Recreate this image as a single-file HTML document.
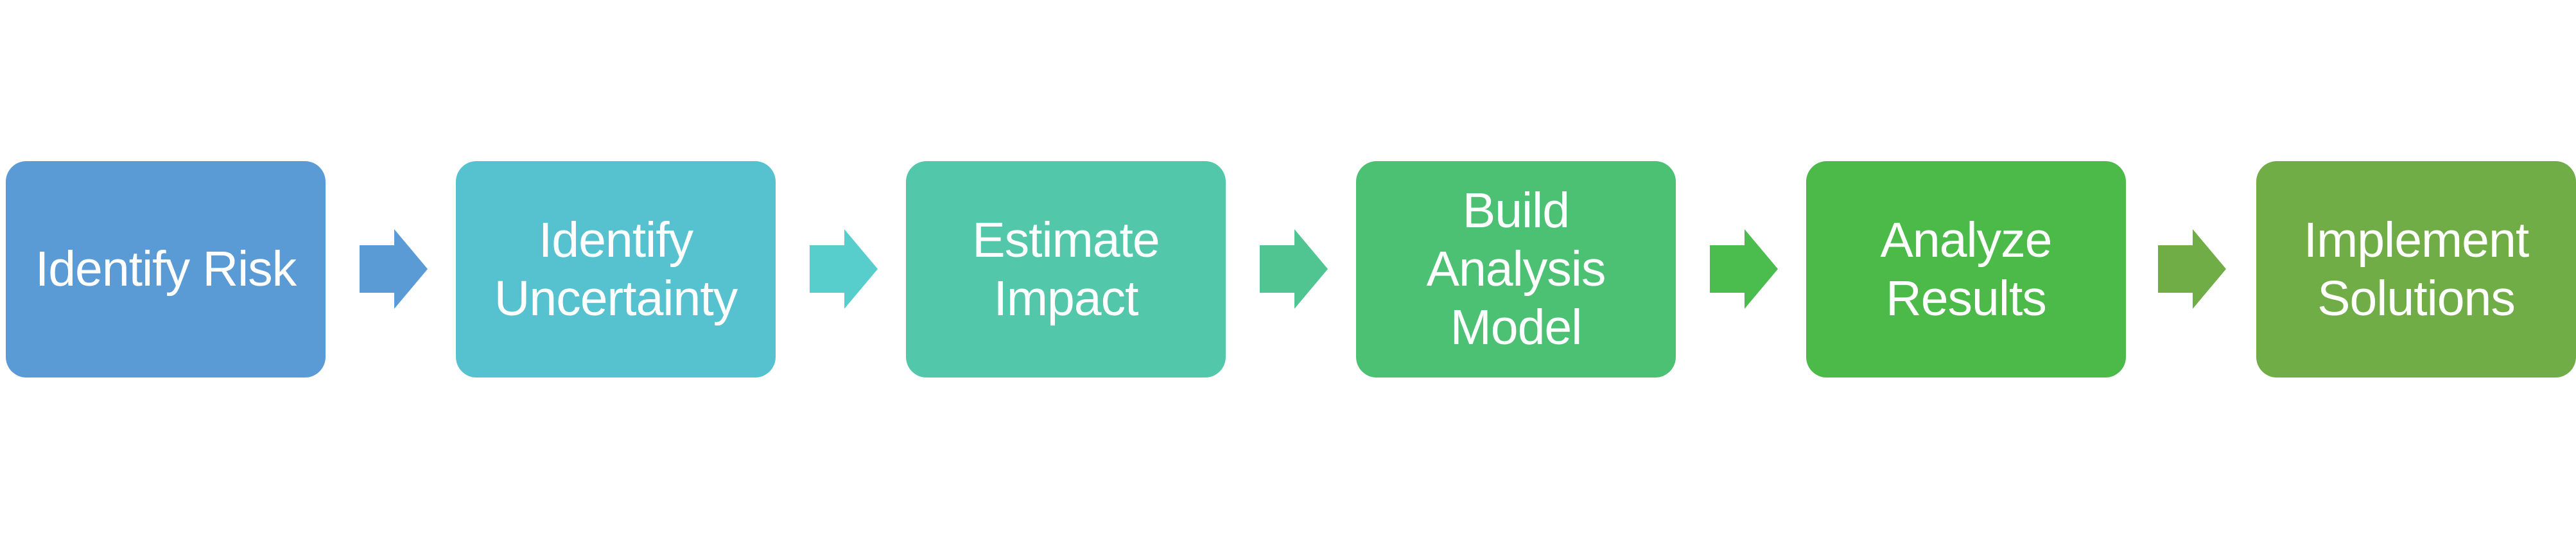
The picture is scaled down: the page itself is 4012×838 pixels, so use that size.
<!DOCTYPE html>
<html><head><style>
html,body{margin:0;padding:0;background:#fff}
body{width:4012px;height:838px;position:relative;overflow:hidden;font-family:"Liberation Sans",sans-serif}
.b{position:absolute;top:251px;width:498px;height:337px;border-radius:32px;display:flex;align-items:center;justify-content:center;text-align:center;color:#fff;font-size:77px;line-height:91px;letter-spacing:-1px}
svg{position:absolute;left:0;top:0}
</style></head><body>
<div class="b" style="left:9px;background:#5B9BD5">Identify Risk</div>
<div class="b" style="left:710px;background:#56C2CF">Identify<br>Uncertainty</div>
<div class="b" style="left:1411px;background:#52C7AA">Estimate<br>Impact</div>
<div class="b" style="left:2112px;background:#4CC174">Build<br>Analysis<br>Model</div>
<div class="b" style="left:2813px;background:#4BBA48">Analyze<br>Results</div>
<div class="b" style="left:3514px;background:#70AD47">Implement<br>Solutions</div>
<svg width="4012" height="838">
<g>
<polygon transform="translate(560,0)" points="0,382 54,382 54,357 106,419 54,481 54,456 0,456" fill="#5B9BD5"/>
<polygon transform="translate(1261,0)" points="0,382 54,382 54,357 106,419 54,481 54,456 0,456" fill="#57CDCC"/>
<polygon transform="translate(1962,0)" points="0,382 54,382 54,357 106,419 54,481 54,456 0,456" fill="#50C592"/>
<polygon transform="translate(2663,0)" points="0,382 54,382 54,357 106,419 54,481 54,456 0,456" fill="#4BBC4E"/>
<polygon transform="translate(3361,0)" points="0,382 54,382 54,357 106,419 54,481 54,456 0,456" fill="#70AD47"/>
</g>
</svg>
</body></html>
